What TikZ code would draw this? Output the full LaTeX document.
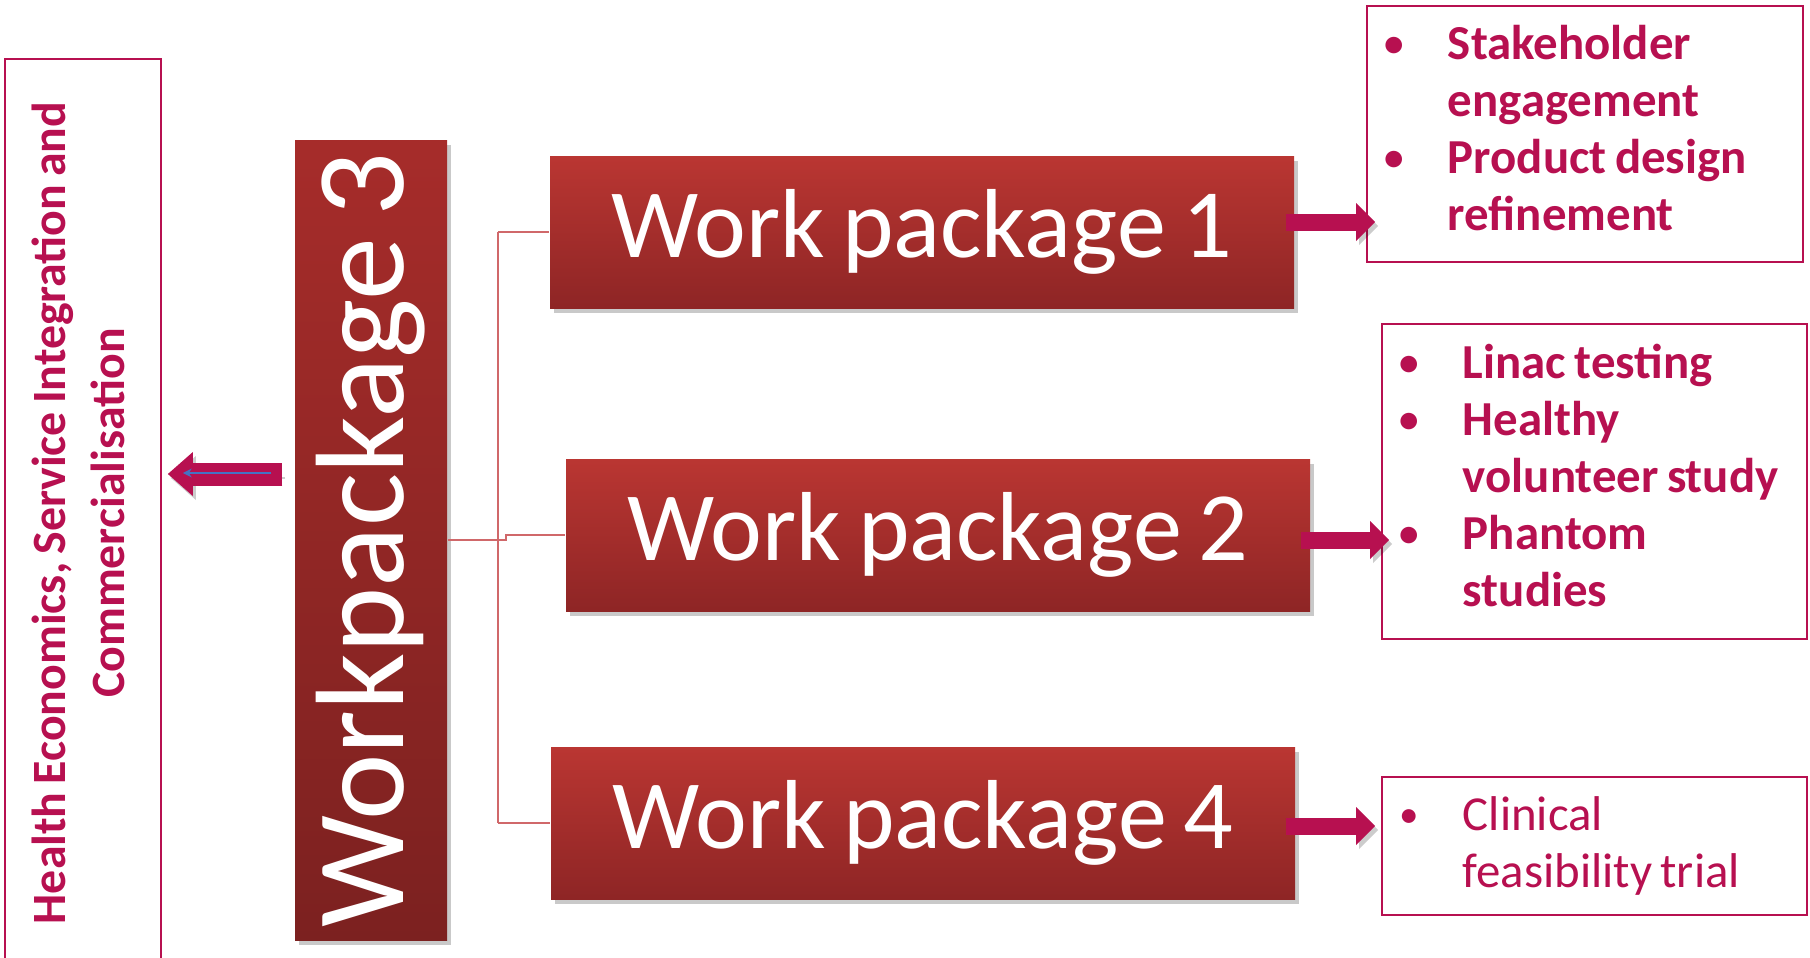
\documentclass[tikz,border=0pt]{standalone}
\usepackage{fontspec}
\setmainfont{Carlito}
\usetikzlibrary{arrows.meta,shadows}

\definecolor{berry}{RGB}{183,16,80}
\definecolor{wptop}{RGB}{186,54,50}
\definecolor{wpbottom}{RGB}{142,37,37}
\definecolor{wpdarktop}{RGB}{166,44,42}
\definecolor{wpdarkbottom}{RGB}{124,33,32}
\definecolor{linkred}{RGB}{208,104,106}
\definecolor{arrowblue}{RGB}{68,114,196}

% sets size and leading, keeps word spaces tight
\newcommand*{\setsize}[2]{\fontsize{#1}{#2}\selectfont
  \spaceskip=\dimexpr #1*170/1000\relax}
% bullet column of the task lists
\newcommand*{\bul}{\makebox[0.66cm][l]{\hspace{0.03cm}\raisebox{0.12ex}{\scalebox{0.8}{\textbullet}}}}
\newcommand*{\gap}{\hspace*{0.66cm}}
\newcommand*{\lift}{\rule[-0.12cm]{0pt}{0pt}}

\tikzset{
  softshadow/.style={drop shadow={shadow xshift=0.035cm, shadow yshift=-0.045cm, opacity=0.3, fill=black!70}},
  wpbox/.style={rectangle, inner sep=0pt, top color=wptop, bottom color=wpbottom,
    text=white, minimum width=7.44cm, minimum height=1.52cm,
    font=\setsize{27.9pt}{33pt}, softshadow},
  listbox/.style={draw=berry, line width=0.5pt, text=berry, anchor=north west,
    inner xsep=0.15cm, inner ysep=0pt, align=flush left},
  listfont/.style={font=\setsize{13.9pt}{16.2pt}#1},
  link/.style={draw=linkred, line width=0.5pt},
  arrowshadow/.style={preaction={draw=black, opacity=0.2,
    transform canvas={xshift=0.03cm, yshift=-0.04cm}}},
  fatlink/.style={draw=berry, line width=0.17cm, arrowshadow,
    -{Triangle[length=0.19cm, width=0.38cm, line width=0pt]}},
}

\begin{document}
\begin{tikzpicture}
  \useasboundingbox (0,0) rectangle (18.10,9.57);

  % left column
  \node[draw=berry, line width=0.5pt, text=berry, inner sep=0pt,
        minimum width=1.56cm, minimum height=9.08cm,
        font=\setsize{13.6pt}{17pt}\bfseries] (hesic) at (0.83,4.44)
    {\rotatebox{90}{\begin{tabular}{@{}c@{}}Health Economics, Service Integration and\\Commercialisation\end{tabular}}};

  % central work package
  \node[wpbox, top color=wpdarktop, bottom color=wpdarkbottom,
        minimum width=1.52cm, minimum height=8.00cm,
        font=\setsize{35.8pt}{44pt}] (wp3) at (3.71,4.17)
    {\rotatebox{90}{Workpackage 3}};

  \node[wpbox] (wp1) at (9.22,7.25) {Work package 1};
  \node[wpbox] (wp2) at (9.38,4.22) {Work package 2};
  \node[wpbox] (wp4) at (9.23,1.34) {Work package 4};

  % task lists
  \node[listbox, listfont=\bfseries, text width=4.06cm, minimum height=2.56cm] (list1) at (13.66,9.52)
    {\bul Stakeholder\\\gap engagement\\\bul Product design\\\gap refinement\lift};
  \node[listbox, listfont=\bfseries, text width=3.95cm, minimum height=3.15cm] (list2) at (13.81,6.34)
    {\bul Linac testing\\\bul Healthy\\\gap volunteer~study\\\bul Phantom\\\gap studies\lift};
  \node[listbox, listfont=, text width=3.95cm, minimum height=1.38cm] (list4) at (13.81,1.81)
    {\bul Clinical\\\gap feasibility~trial};

  % tree from workpackage 3
  \coordinate (fork) at (4.98,4.18);
  \draw[link] (wp3.east) -- (wp3.east -| fork);
  \draw[link] (fork |- wp1.west) -- (fork |- wp4.west);
  \draw[link] (fork |- wp1.west) -- (wp1.west);
  \draw[link] (fork |- wp4.west) -- (wp4.west);
  \draw[link] (wp3.east -| fork) -- ++(0.08,0) |- (wp2.west);

  % block arrows
  \coordinate (t1) at ([xshift=-0.09cm,yshift=0.10cm]wp1.east);
  \coordinate (t2) at ([xshift=-0.10cm,yshift=-0.05cm]wp2.east);
  \coordinate (t4) at ([xshift=-0.10cm,yshift=-0.03cm]wp4.east);
  \draw[fatlink] (t1) -- ([xshift=0.09cm]t1 -| list1.west);
  \draw[fatlink] (t2) -- ([xshift=0.08cm]t2 -| list2.west);
  \draw[fatlink] (t4) -- ([xshift=-0.06cm]t4 -| list4.west);

  \coordinate (hetail) at ([xshift=-0.12cm,yshift=0.66cm]wp3.west);
  \draw[draw=berry, line width=0.23cm, line join=round, arrowshadow,
        -{Triangle[length=0.25cm, width=0.44cm, line width=0pt]}]
    (hetail) -- ([xshift=0.06cm]hetail -| hesic.east);
  \draw[arrowblue, line width=0.6pt, -{Stealth[length=2.5pt, width=2.5pt]}]
    ([xshift=-0.11cm,yshift=0.01cm]hetail) -- ([xshift=0.21cm,yshift=0.01cm]hetail -| hesic.east);
\end{tikzpicture}
\end{document}
